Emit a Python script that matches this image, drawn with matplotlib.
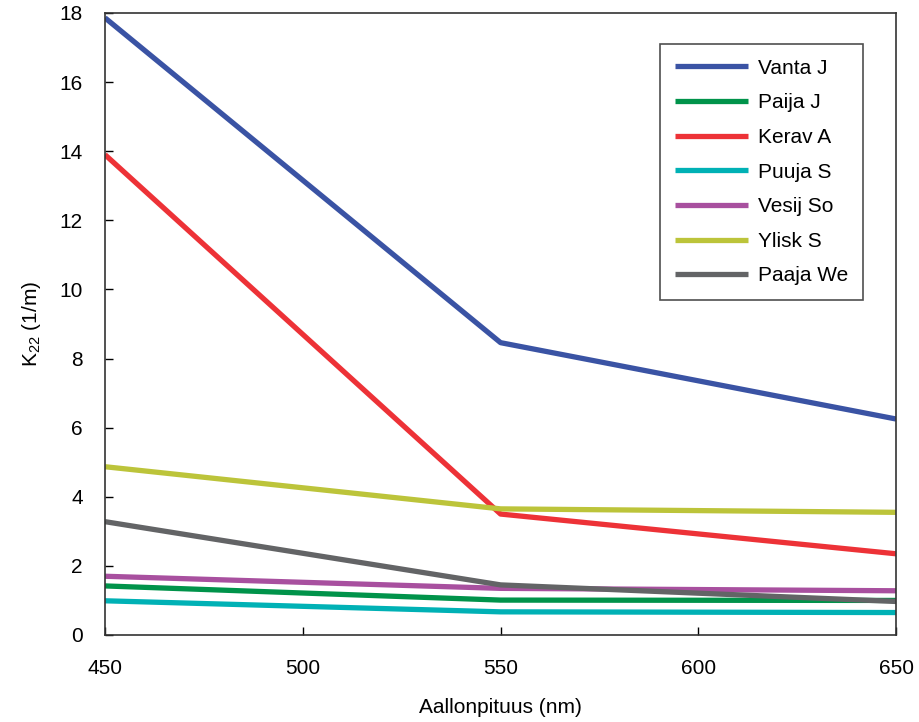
import matplotlib
matplotlib.use("Agg")
import matplotlib.pyplot as plt

plt.rcParams["font.family"] = ["Liberation Sans", "DejaVu Sans"]
plt.rcParams["mathtext.fontset"] = "custom"
plt.rcParams["mathtext.rm"] = "Liberation Sans"
plt.rcParams["mathtext.it"] = "Liberation Sans"

wavelengths = [450, 550, 650]
series_names = ["Vanta J", "Paija J", "Kerav A", "Puuja S", "Vesij So", "Ylisk S", "Paaja We"]
vanta = [17.86, 8.46, 6.25]
paija = [1.42, 1.01, 1.0]
kerav = [13.9, 3.5, 2.35]
puuja = [0.99, 0.67, 0.65]
vesij = [1.70, 1.35, 1.28]
ylisk = [4.87, 3.65, 3.55]
paaja = [3.28, 1.45, 0.97]
series_values = [vanta, paija, kerav, puuja, vesij, ylisk, paaja]
colors = ["#3a53a4", "#00934a", "#ed3237", "#00b1b5", "#a8509f", "#bcc43a", "#636466"]

fig = plt.figure(figsize=(9.2, 7.22), dpi=100)
ax = fig.add_axes([0.1141, 0.1205, 0.86, 0.8615])

for name, vals, c in zip(series_names, series_values, colors):
    ax.plot(wavelengths, vals, color=c, lw=3.8, label=name, solid_capstyle="butt")

ax.set_xlim(450, 650)
ax.set_ylim(0, 18)
ax.set_xticks([450, 500, 550, 600, 650])
ax.set_yticks(range(0, 19, 2))
ax.tick_params(direction="in", labelsize=15, length=6, width=1)
ax.tick_params(axis="x", pad=17)
ax.tick_params(axis="y", pad=16)
for s in ax.spines.values():
    s.set_color("#333333")
    s.set_linewidth(1.2)

ax.set_xlabel("Aallonpituus (nm)", fontsize=15, labelpad=15)
ax.set_ylabel("K$_{\\mathrm{22}}$ (1/m)", fontsize=15, labelpad=12)

leg = ax.legend(loc="upper right", bbox_to_anchor=(0.958, 0.950), borderaxespad=0,
                fontsize=15, handlelength=3.5, fancybox=False, frameon=True,
                borderpad=0.7, labelspacing=0.75, handletextpad=0.5)
leg.get_frame().set_edgecolor("#222222")
leg.get_frame().set_linewidth(1.2)

fig.savefig("out.png", dpi=100)
